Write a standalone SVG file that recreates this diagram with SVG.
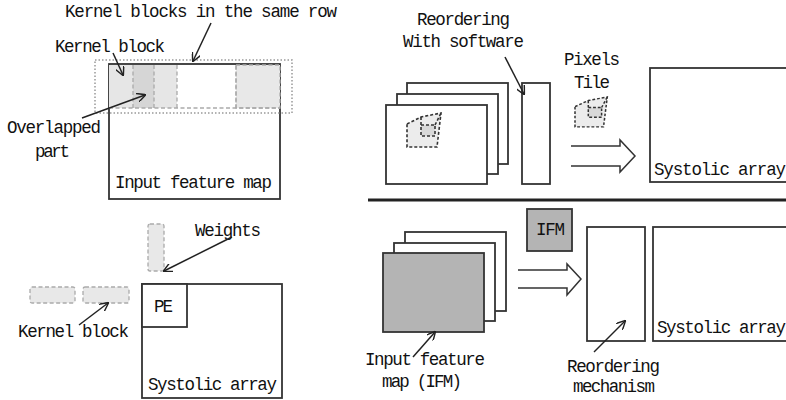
<svg xmlns="http://www.w3.org/2000/svg" width="786" height="400" viewBox="0 0 786 400">
<style>
text{font-family:"Liberation Mono","DejaVu Sans Mono",monospace;font-size:17.5px;fill:#111;lengthAdjust:spacingAndGlyphs}
.box{fill:#fff;stroke:#333;stroke-width:1.8}
.kb{fill:#e8e8e8;stroke:#aaa;stroke-width:1.3;stroke-dasharray:4 2.5}
.ln{fill:none;stroke:#222;stroke-width:1.5}
.ha{fill:#fff;stroke:#333;stroke-width:1.5}
.tl{fill:#ececec;stroke:#333;stroke-width:1.6;stroke-dasharray:3 2}
.ti{fill:#d8d8d8;stroke:#333;stroke-width:1.6;stroke-dasharray:3 2}
</style>
<defs>
<marker id="ah" viewBox="0 0 10 10" refX="9" refY="5" markerWidth="9" markerHeight="9" markerUnits="userSpaceOnUse" orient="auto">
<path d="M0,0 L10,5 L0,10" fill="none" stroke="#222" stroke-width="1.6"/>
</marker>
<g id="tile">
<path class="tl" d="M0,11 L14,4 L34,0 L30,34 L0,34 Z"/>
<rect class="ti" x="14" y="12" width="14" height="11"/>
<path class="tl" d="M14,4 L14,12 M28,12 L34,0" fill="none"/>
</g>
</defs>

<!-- Top-left: input feature map with kernel blocks -->
<g id="ifm-top-left">
<rect class="box" x="109" y="64" width="171" height="135"/>
<rect x="109" y="65" width="45" height="43" fill="#e6e6e6"/>
<rect x="133" y="65" width="44" height="43" fill="#e6e6e6"/>
<rect x="133" y="65" width="21" height="43" fill="#d6d6d6"/>
<rect class="kb" x="236" y="65" width="44" height="43"/>
<path d="M109,108 H280 M133,65 V108 M154,65 V108 M177,65 V108 M236,65 V108" fill="none" stroke="#aaa" stroke-width="1.3" stroke-dasharray="4 2.5"/>
<rect x="95" y="60" width="197" height="53" fill="none" stroke="#999" stroke-width="1.5" stroke-dasharray="1.5 2"/>
<text x="115" y="188" textLength="157">Input feature map</text>
</g>
<g id="label-kernel-row"><text x="65" y="17" textLength="272">Kernel blocks in the same row</text></g>
<g id="label-kernel-block-top"><text x="55" y="52" textLength="110">Kernel block</text></g>
<g id="label-overlapped"><text x="7" y="133" textLength="94">Overlapped</text><text x="35" y="157" textLength="35">part</text></g>

<!-- Bottom-left: systolic array with PE -->
<g id="systolic-bottom-left">
<rect class="box" x="142" y="284" width="140" height="114"/>
<rect class="box" x="142" y="284" width="45" height="43"/>
<text x="154" y="312" textLength="19">PE</text>
<text x="148" y="390" textLength="129">Systolic array</text>
</g>
<g id="weights"><rect class="kb" x="148" y="224" width="16" height="47" rx="2"/><text x="195" y="236" textLength="66">Weights</text></g>
<g id="kernel-blocks-bottom">
<rect class="kb" x="30" y="287" width="45" height="16" rx="2"/>
<rect class="kb" x="83" y="287" width="46" height="16" rx="2"/>
<text x="18" y="337" textLength="111">Kernel block</text>
</g>

<!-- Top-right: software reordering -->
<g id="frames-top">
<rect class="box" x="407" y="83" width="101" height="81"/>
<rect class="box" x="397" y="94" width="101" height="80"/>
<rect class="box" x="386" y="105" width="101" height="79"/>
<use href="#tile" transform="translate(407,113)"/>
</g>
<g id="reorder-sw-buffer"><rect class="box" x="522" y="83" width="28" height="101"/></g>
<g id="label-reorder-sw"><text x="417" y="25" textLength="93">Reordering</text><text x="403" y="47" textLength="121">With software</text></g>
<g id="pixel-tile">
<text x="564" y="65" textLength="56">Pixels</text><text x="574" y="88" textLength="36">Tile</text>
<use href="#tile" transform="translate(575,97) scale(0.95,0.88)"/>
</g>
<g id="systolic-top-right">
<rect class="box" x="650" y="68" width="140" height="114"/>
<text x="654" y="175" textLength="132">Systolic array</text>
</g>

<!-- Separator -->
<line x1="368" y1="200" x2="786" y2="200" stroke="#222" stroke-width="3"/>

<!-- Bottom-right: hardware reordering -->
<g id="frames-bottom">
<rect class="box" x="405" y="232" width="101" height="79"/>
<rect class="box" x="394" y="243" width="101" height="78"/>
<rect x="383" y="253" width="101" height="79" fill="#b4b4b4" stroke="#333" stroke-width="1.8"/>
</g>
<g id="ifm-box"><rect x="527" y="209" width="45" height="42" fill="#b4b4b4" stroke="#333" stroke-width="1.8"/><text x="536" y="235" textLength="29">IFM</text></g>
<g id="label-ifm"><text x="365" y="365" textLength="120">Input feature</text><text x="382" y="387" textLength="80">map (IFM)</text></g>
<g id="reorder-mechanism"><rect class="box" x="587" y="227" width="58" height="114"/></g>
<g id="label-reorder-mech"><text x="567" y="372" textLength="93">Reordering</text><text x="573" y="392" textLength="82">mechanism</text></g>
<g id="systolic-bottom-right">
<rect class="box" x="653" y="227" width="140" height="114"/>
<text x="657" y="333" textLength="129">Systolic array</text>
</g>

<!-- Connectors -->
<g id="connectors">
<line class="ln" x1="211" y1="23" x2="193" y2="61" marker-end="url(#ah)"/>
<line class="ln" x1="113" y1="53" x2="123" y2="75" marker-end="url(#ah)"/>
<line class="ln" x1="82" y1="118" x2="145" y2="95" stroke-width="2" marker-end="url(#ah)"/>
<line class="ln" x1="232" y1="237" x2="164" y2="271" marker-end="url(#ah)"/>
<line class="ln" x1="79" y1="325" x2="108" y2="303" marker-end="url(#ah)"/>
<line class="ln" x1="505" y1="57" x2="524" y2="94" marker-end="url(#ah)"/>
<line class="ln" x1="413" y1="357" x2="435" y2="332" marker-end="url(#ah)"/>
<line class="ln" x1="594" y1="352" x2="625" y2="321" marker-end="url(#ah)"/>
<path class="ha" d="M571,146 H620 V140 L635,156 L620,172 V166 H571"/>
<path class="ha" d="M518,270 H567 V264 L581,279 L567,295 V288 H518"/>
</g>
</svg>
